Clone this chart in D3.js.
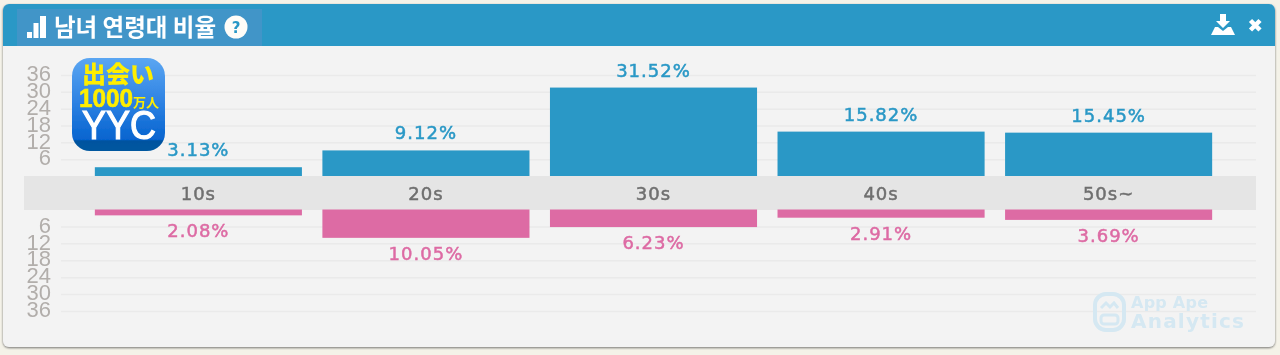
<!DOCTYPE html>
<html>
<head>
<meta charset="utf-8">
<script src="https://cdn.jsdelivr.net/npm/d3@7"></script>
<style>
  html, body { margin: 0; padding: 0; background: #f4f2e8; overflow: hidden; }
  text { font-family: "DejaVu Sans", "Noto Sans CJK KR", sans-serif; }
</style>
</head>
<body>
<div id="chart"></div>
<script>
const categories = ["10s", "20s", "30s", "40s", "50s~"];
const maleValues = [3.13, 9.12, 31.52, 15.82, 15.45];
const femaleValues = [2.08, 10.05, 6.23, 2.91, 3.69];
const tickLabels = [6, 12, 18, 24, 30, 36];

const width = 1280, height = 355;
const blue = "#2a98c6", pink = "#dd6ba4";

const svg = d3.select("#chart").append("svg")
    .attr("width", width)
    .attr("height", height)
    .style("display", "block");

const defs = svg.append("defs");

// the reference is a soft upscaled screenshot
defs.append("filter").attr("id", "soft")
  .append("feGaussianBlur").attr("stdDeviation", 0.5);

const shadow = defs.append("filter").attr("id", "shadow")
    .attr("x", "-2%").attr("y", "-2%").attr("width", "104%").attr("height", "106%");
shadow.append("feDropShadow")
    .attr("dx", 0).attr("dy", 1).attr("stdDeviation", 1)
    .attr("flood-color", "#555").attr("flood-opacity", 0.8);

const iconGrad = defs.append("linearGradient").attr("id", "iconGrad")
    .attr("x1", 0).attr("y1", 0).attr("x2", 0).attr("y2", 1);
iconGrad.append("stop").attr("offset", "0%").attr("stop-color", "#5ba6f2");
iconGrad.append("stop").attr("offset", "50%").attr("stop-color", "#2b80e2");
iconGrad.append("stop").attr("offset", "88%").attr("stop-color", "#0664cf");
iconGrad.append("stop").attr("offset", "89%").attr("stop-color", "#04529f");
iconGrad.append("stop").attr("offset", "100%").attr("stop-color", "#04589f");

// panel
svg.append("rect")
    .attr("x", 3).attr("y", 4).attr("width", 1272).attr("height", 343)
    .attr("rx", 6)
    .attr("fill", "#f3f3f3")
    .attr("filter", "url(#shadow)");

// header
svg.append("path")
    .attr("d", "M3,46V10a6,6 0 0 1 6,-6H1269a6,6 0 0 1 6,6V46Z")
    .attr("fill", blue);
svg.append("rect")
    .attr("x", 17).attr("y", 9).attr("width", 245).attr("height", 37)
    .attr("fill", "#4195c8");

// title icon, title, help
const head = svg.append("g").attr("filter", "url(#soft)");
head.selectAll(".sig")
  .data([[27, 32, 5, 6], [33.5, 23, 5, 15], [40, 16, 6, 22]])
  .join("rect")
    .attr("x", d => d[0]).attr("y", d => d[1])
    .attr("width", d => d[2]).attr("height", d => d[3])
    .attr("fill", "#fff");
head.append("text")
    .attr("x", 54).attr("y", 36)
    .attr("fill", "#fff")
    .attr("font-size", 23.5)
    .attr("font-weight", 700)
    .style("font-family", '"Noto Sans CJK KR"')
    .text("남녀 연령대 비율");
head.append("circle").attr("cx", 236).attr("cy", 27).attr("r", 11.5).attr("fill", "#fffdf8");
head.append("text")
    .attr("x", 236).attr("y", 32.5)
    .attr("text-anchor", "middle")
    .attr("fill", blue)
    .attr("font-size", 15)
    .attr("font-weight", 700)
    .text("?");

// download and close icons
head.append("path")
    .attr("d", "M1220,14h6v7h4l-7,7l-7,-7h4Z M1211,35l4,-8h3l5,4l5,-4h3l4,8Z")
    .attr("fill", "#fff");
head.append("path")
    .attr("d", "M1250.5,20.5l9.5,9.5M1260,20.5l-9.5,9.5")
    .attr("stroke", "#fff")
    .attr("stroke-width", 4.5)
    .attr("fill", "none");

// scales: both halves share one px-per-unit, each from its own baseline
const x = d3.scaleBand()
    .domain(categories)
    .range([84.6, 1222.4])
    .paddingInner(0.09)
    .paddingOuter(0.045);

const yUp = d3.scaleLinear().domain([0, 36]).range([176, 75]);
const yDown = d3.scaleLinear().domain([0, 36]).range([209.5, 311]);

// axes with the ticks pulled across as gridlines
function drawAxis(scale) {
  const g = svg.append("g")
      .attr("transform", "translate(61,0)")
      .call(d3.axisLeft(scale)
        .tickValues(tickLabels)
        .tickSize(-1195)
        .tickPadding(10));
  g.select(".domain").remove();
  g.selectAll("line").attr("stroke", "#eaeaea").attr("stroke-width", 1.5);
  g.selectAll("text")
      .attr("fill", "#b2aeab")
      .attr("font-size", 22)
      .attr("dy", "0.26em")
      .attr("filter", "url(#soft)")
      .style("font-family", '"Liberation Sans"');
}
drawAxis(yUp);
drawAxis(yDown);

// category band
svg.append("rect")
    .attr("x", 24).attr("y", 176).attr("width", 1232).attr("height", 34)
    .attr("fill", "#e5e5e5");

// bars
svg.append("g").selectAll("rect")
  .data(maleValues)
  .join("rect")
    .attr("x", (d, i) => x(categories[i]))
    .attr("y", d => yUp(d))
    .attr("width", x.bandwidth())
    .attr("height", d => yUp(0) - yUp(d))
    .attr("fill", blue);

svg.append("g").selectAll("rect")
  .data(femaleValues)
  .join("rect")
    .attr("x", (d, i) => x(categories[i]))
    .attr("y", yDown(0))
    .attr("width", x.bandwidth())
    .attr("height", d => yDown(d) - yDown(0))
    .attr("fill", pink);

const labels = svg.append("g")
    .attr("filter", "url(#soft)")
    .attr("text-anchor", "middle")
    .attr("font-size", 18)
    .attr("stroke-width", 0.5)
    .style("letter-spacing", "1px");

labels.selectAll(".cat")
  .data(categories)
  .join("text")
    .attr("class", "cat")
    .attr("x", d => x(d) + x.bandwidth() / 2)
    .attr("y", 200)
    .attr("fill", "#6f6f6f")
    .attr("stroke", "#6f6f6f")
    .text(d => d);

labels.selectAll(".male")
  .data(maleValues)
  .join("text")
    .attr("class", "male")
    .attr("x", (d, i) => x(categories[i]) + x.bandwidth() / 2)
    .attr("y", d => yUp(d) - 11)
    .attr("fill", blue)
    .attr("stroke", blue)
    .text(d => d.toFixed(2) + "%");

labels.selectAll(".female")
  .data(femaleValues)
  .join("text")
    .attr("class", "female")
    .attr("x", (d, i) => x(categories[i]) + x.bandwidth() / 2)
    .attr("y", d => yDown(d) + 22)
    .attr("fill", pink)
    .attr("stroke", pink)
    .text(d => d.toFixed(2) + "%");

// app icon
const icon = svg.append("g").attr("filter", "url(#soft)");
icon.append("rect")
    .attr("x", 72).attr("y", 58).attr("width", 93).attr("height", 93)
    .attr("rx", 18)
    .attr("fill", "url(#iconGrad)");
icon.append("text")
    .attr("x", 118).attr("y", 83)
    .attr("text-anchor", "middle")
    .attr("fill", "#ffee00")
    .attr("font-size", 24)
    .attr("font-weight", 900)
    .style("font-family", '"Noto Sans CJK JP"')
    .text("出会い");
icon.append("text")
    .attr("x", 79).attr("y", 107)
    .attr("fill", "#ffee00")
    .attr("stroke", "#ffee00")
    .attr("stroke-width", 0.6)
    .attr("font-size", 26)
    .attr("font-weight", 700)
    .attr("textLength", 54)
    .attr("lengthAdjust", "spacingAndGlyphs")
    .style("font-family", '"Liberation Sans"')
    .text("1000");
icon.append("text")
    .attr("x", 133).attr("y", 107)
    .attr("fill", "#ffee00")
    .attr("font-size", 13)
    .attr("font-weight", 700)
    .style("font-family", '"Noto Sans CJK JP"')
    .text("万人");
icon.append("text")
    .attr("x", 119).attr("y", 139)
    .attr("text-anchor", "middle")
    .attr("fill", "#fff")
    .attr("stroke", "#fff")
    .attr("stroke-width", 1.2)
    .attr("font-size", 40)
    .attr("textLength", 74)
    .attr("lengthAdjust", "spacingAndGlyphs")
    .style("font-family", '"Liberation Sans"')
    .text("YYC");

// watermark
const mark = svg.append("g").attr("filter", "url(#soft)").attr("fill", "#d5e8f2");
mark.append("rect")
    .attr("x", 1095).attr("y", 294).attr("width", 29).attr("height", 36)
    .attr("rx", 11)
    .attr("fill", "none")
    .attr("stroke", "#d5e8f2")
    .attr("stroke-width", 4);
mark.append("rect")
    .attr("x", 1101).attr("y", 315).attr("width", 17).attr("height", 9)
    .attr("rx", 3)
    .attr("fill", "none")
    .attr("stroke", "#d5e8f2")
    .attr("stroke-width", 3);
mark.append("path")
    .attr("d", "M1101,308l5,-5l4,4l4,-4l4,5")
    .attr("fill", "none")
    .attr("stroke", "#d5e8f2")
    .attr("stroke-width", 3);
mark.append("text")
    .attr("x", 1131).attr("y", 308)
    .attr("font-size", 16)
    .attr("font-weight", 700)
    .attr("textLength", 77)
    .text("App Ape");
mark.append("text")
    .attr("x", 1131).attr("y", 328)
    .attr("font-size", 20)
    .attr("font-weight", 700)
    .attr("textLength", 113)
    .text("Analytics");
</script>
</body>
</html>
